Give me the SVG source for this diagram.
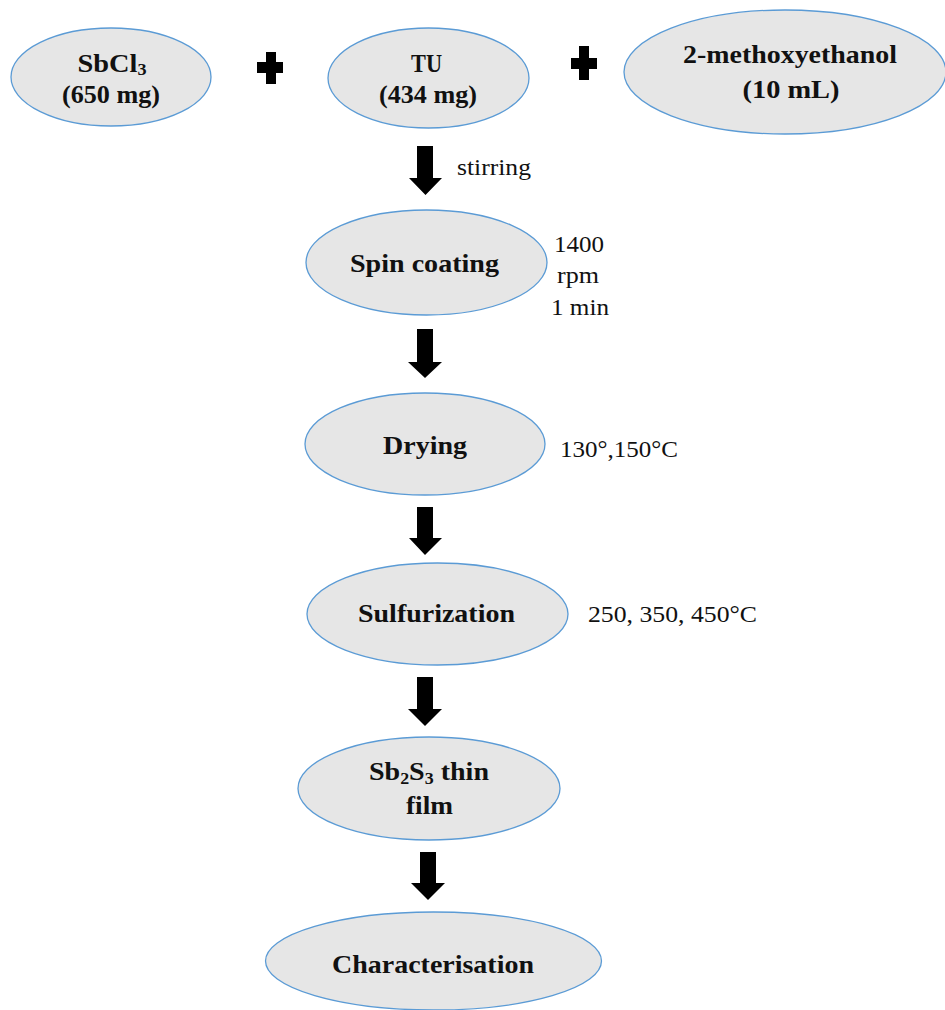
<svg xmlns="http://www.w3.org/2000/svg" width="945" height="1010" viewBox="0 0 945 1010">
<style>
.node{fill:#e6e6e6;stroke:#5b9bd5;stroke-width:1.3}
.b{font-family:"Liberation Serif","Times New Roman",serif;font-weight:bold;font-size:25px;fill:#111;text-anchor:middle}
.r{font-family:"Liberation Serif","Times New Roman",serif;font-size:23px;fill:#111}
.rc{text-anchor:middle}
.sub{font-size:16px}
.arrow{fill:#000}
</style>
<rect width="945" height="1010" fill="#fff"/>
<g id="sbcl3">
<ellipse class="node" cx="111" cy="77" rx="100" ry="49"/>
<text class="b" x="112" y="72" textLength="69" lengthAdjust="spacingAndGlyphs">SbCl<tspan class="sub" dy="3">3</tspan></text>
<text class="b" x="111" y="103" textLength="98" lengthAdjust="spacingAndGlyphs">(650 mg)</text>
</g>
<g id="plus1"><path class="arrow" d="M266 52H276V62H283V73H276V84H266V73H257V62H266Z"/></g>
<g id="tu">
<ellipse class="node" cx="428.5" cy="78" rx="100.5" ry="50"/>
<text class="b" x="426.5" y="72" textLength="31" lengthAdjust="spacingAndGlyphs">TU</text>
<text class="b" x="428" y="103" textLength="98" lengthAdjust="spacingAndGlyphs">(434 mg)</text>
</g>
<g id="plus2"><path class="arrow" d="M579 46H589V58H597V69H589V80H579V69H571V58H579Z"/></g>
<g id="methoxyethanol">
<ellipse class="node" cx="785" cy="72" rx="161" ry="62"/>
<text class="b" x="790" y="63" textLength="214" lengthAdjust="spacingAndGlyphs">2-methoxyethanol</text>
<text class="b" x="791" y="98" textLength="97" lengthAdjust="spacingAndGlyphs">(10 mL)</text>
</g>
<g id="spin">
<ellipse class="node" cx="426.5" cy="262.5" rx="120.5" ry="52.5"/>
<text class="b" x="424.5" y="272" textLength="149" lengthAdjust="spacingAndGlyphs">Spin coating</text>
</g>
<g id="drying">
<ellipse class="node" cx="425" cy="444" rx="120" ry="51"/>
<text class="b" x="425" y="454" textLength="84" lengthAdjust="spacingAndGlyphs">Drying</text>
</g>
<g id="sulfurization">
<ellipse class="node" cx="437.5" cy="614" rx="130.5" ry="51"/>
<text class="b" x="436.5" y="622" textLength="157" lengthAdjust="spacingAndGlyphs">Sulfurization</text>
</g>
<g id="sb2s3">
<ellipse class="node" cx="429" cy="788.5" rx="131" ry="51.5"/>
<text class="b" x="429" y="780" textLength="120" lengthAdjust="spacingAndGlyphs">Sb<tspan class="sub" dy="4">2</tspan><tspan dy="-4">S</tspan><tspan class="sub" dy="4">3</tspan><tspan dy="-4"> thin</tspan></text>
<text class="b" x="429.5" y="814" textLength="47" lengthAdjust="spacingAndGlyphs">film</text>
</g>
<g id="characterisation">
<ellipse class="node" cx="433.5" cy="961" rx="168" ry="49"/>
<text class="b" x="433" y="973" textLength="202" lengthAdjust="spacingAndGlyphs">Characterisation</text>
</g>
<g id="connectors">
<path class="arrow" d="M417 146H433V178H442L425.5 195L409 178H417Z"/>
<path class="arrow" d="M417 329H433V362H442L425 378L408 362H417Z"/>
<path class="arrow" d="M417 507H433V538H442L425 555L409 538H417Z"/>
<path class="arrow" d="M417 677H433V709H442L425 726L408 709H417Z"/>
<path class="arrow" d="M420 852H436V883H445L428 900L411 883H420Z"/>
</g>
<g id="labels">
<text class="r" x="457" y="175" textLength="74" lengthAdjust="spacingAndGlyphs">stirring</text>
<text class="r rc" x="579" y="252" textLength="50" lengthAdjust="spacingAndGlyphs">1400</text>
<text class="r rc" x="578" y="283" textLength="42" lengthAdjust="spacingAndGlyphs">rpm</text>
<text class="r rc" x="580" y="315" textLength="58" lengthAdjust="spacingAndGlyphs">1 min</text>
<text class="r" x="560" y="457" textLength="118" lengthAdjust="spacingAndGlyphs">130°,150°C</text>
<text class="r" x="588" y="622" textLength="169" lengthAdjust="spacingAndGlyphs">250, 350, 450°C</text>
</g>
</svg>
